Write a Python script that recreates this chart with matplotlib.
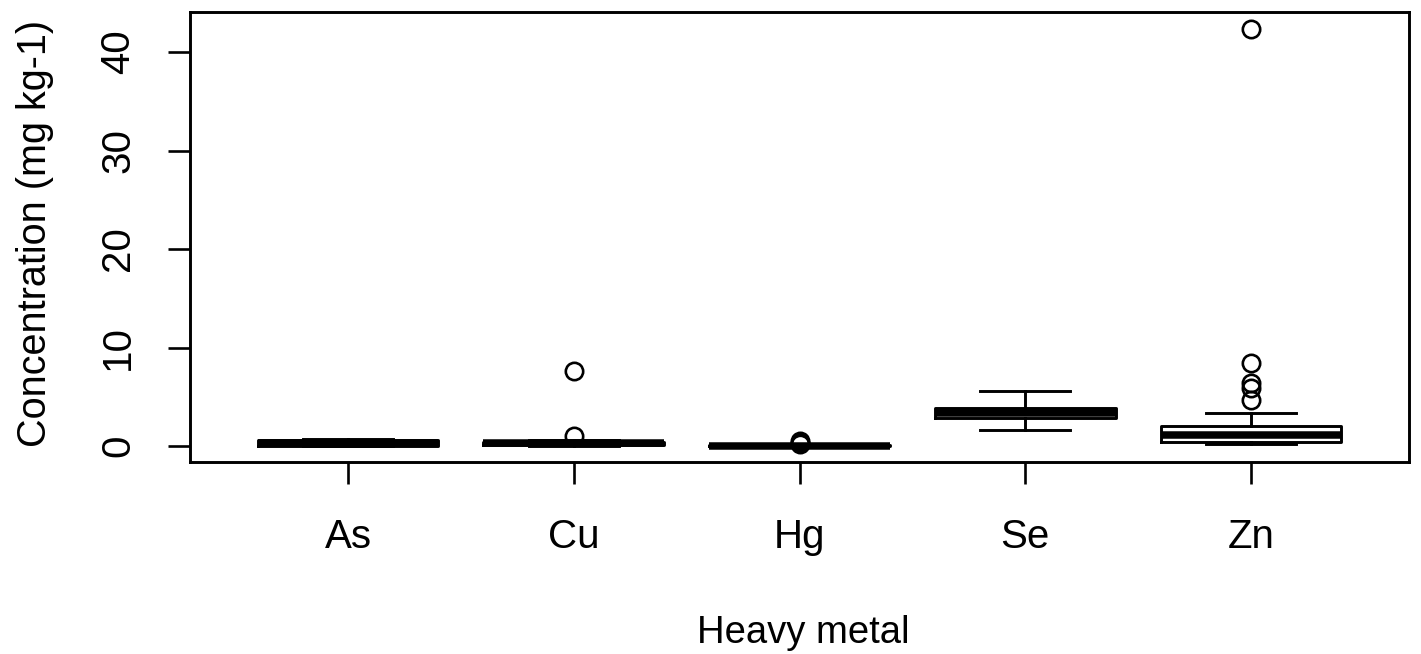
import matplotlib
matplotlib.use("Agg")
import matplotlib.pyplot as plt

plt.rcParams['font.family'] = ['Liberation Sans', 'DejaVu Sans']

metals = ["As", "Cu", "Hg", "Se", "Zn"]
whislo = [0.00, 0.05, 0.00, 1.60, 0.17]
q1 = [0.05, 0.15, 0.02, 2.87, 0.44]
med = [0.30, 0.30, 0.05, 3.35, 1.09]
q3 = [0.59, 0.45, 0.08, 3.83, 2.06]
whishi = [0.76, 0.60, 0.15, 5.60, 3.38]
fliers = [[], [7.65, 1.0], [0.55, 0.35, 0.25], [], [42.3, 8.46, 6.35, 5.9, 4.7]]
yticks = [0, 10, 20, 30, 40]

stats = []
for i, m in enumerate(metals):
    stats.append(dict(label=m, whislo=whislo[i], q1=q1[i], med=med[i],
                      q3=q3[i], whishi=whishi[i], fliers=fliers[i]))

fig = plt.figure(figsize=(14.21, 6.54), dpi=100)
ax = fig.add_axes([190/1421, 1-462/654, 1219/1421, 450/654])

lw = 2.1
ax.bxp(stats, positions=range(1, 6), widths=0.8, capwidths=0.4,
       boxprops=dict(color='black', linewidth=lw),
       whiskerprops=dict(color='black', linewidth=lw),
       capprops=dict(color='black', linewidth=lw),
       medianprops=dict(color='black', linewidth=5.4, solid_capstyle='butt'),
       flierprops=dict(marker='o', markerfacecolor='none', markeredgecolor='black',
                       markersize=12.5, markeredgewidth=1.9))

ax.set_xlim(0.3, 5.7)
ax.set_ylim(-1.62, 44.06)
ax.set_yticks(yticks)
ax.set_yticklabels([str(v) for v in yticks], rotation=90, va='center')
ax.set_xticks(range(1, 6))
ax.set_xticklabels(metals)
ax.tick_params(axis='both', direction='out', length=16, width=1.9, labelsize=29)
ax.tick_params(axis='y', pad=22)
ax.tick_params(axis='x', pad=24)
for s in ax.spines.values():
    s.set_linewidth(2.1)
ax.grid(False)

fig.text(35/1421, 1-233/654, "Concentration (mg kg-1)", rotation=90,
         ha='center', va='center', fontsize=28.5)
fig.text(803/1421, 1-633/654, "Heavy metal", ha='center', va='center', fontsize=27.5)

fig.savefig("out.png", dpi=100)
